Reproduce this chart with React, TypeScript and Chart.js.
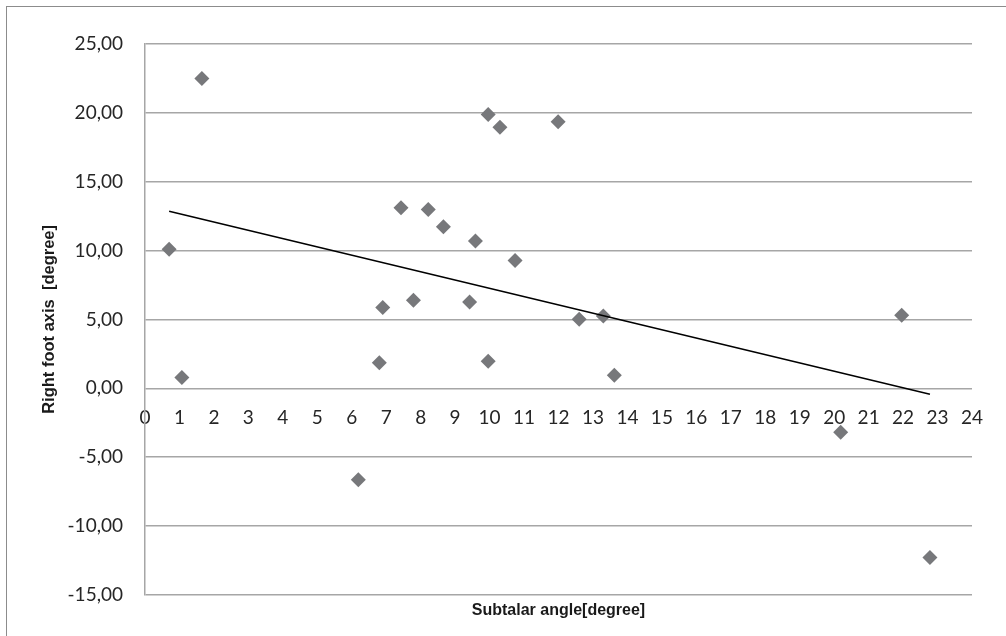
import React, { useEffect, useRef } from "react";
import { Chart, registerables } from "chart.js";

Chart.register(...registerables);

// Subtalar angle [degree]
const subtalarAngle: number[] = [
  0.7, 1.07, 1.65, 6.19, 6.8, 6.9, 7.43, 7.79, 8.22, 8.66, 9.42, 9.59,
  9.96, 9.96, 10.3, 10.74, 11.99, 12.6, 13.3, 13.62, 20.19, 21.96, 22.78,
];
// Right foot axis [degree]
const rightFootAxis: number[] = [
  10.09, 0.78, 22.5, -6.65, 1.86, 5.86, 13.11, 6.39, 12.99, 11.73, 6.26, 10.69,
  1.96, 19.88, 18.96, 9.27, 19.35, 5.01, 5.25, 0.94, -3.2, 5.3, -12.29,
];
// Linear trend line end points
const trendX: number[] = [0.7, 22.78];
const trendY: number[] = [12.85, -0.43];

const xTitle = "Subtalar angle[degree]";
const yTitle = "Right foot axis  [degree]";

const X_MIN = 0;
const X_MAX = 24;
const Y_MIN = -15;
const Y_MAX = 25;

export default function App() {
  const canvasRef = useRef<HTMLCanvasElement | null>(null);

  useEffect(() => {
    const canvas = canvasRef.current;
    if (!canvas) return;
    const gridColor = "#a6a6a6";
    const chart = new Chart(canvas, {
      type: "scatter",
      data: {
        datasets: [
          {
            type: "scatter",
            label: "points",
            data: subtalarAngle.map((x, i) => ({ x, y: rightFootAxis[i] })),
            pointStyle: "rectRot",
            pointRadius: 7.5,
            pointHoverRadius: 7.5,
            backgroundColor: "#77787b",
            borderColor: "#77787b",
            borderWidth: 0,
            order: 2,
          },
          {
            type: "line",
            label: "trend",
            data: trendX.map((x, i) => ({ x, y: trendY[i] })),
            borderColor: "#000000",
            borderWidth: 1.5,
            pointRadius: 0,
            fill: false,
            order: 1,
          } as any,
        ],
      },
      options: {
        animation: false,
        responsive: false,
        maintainAspectRatio: false,
        layout: { padding: { top: 44, right: 34, left: 0, bottom: 0 } },
        plugins: {
          legend: { display: false },
          tooltip: { enabled: false },
          title: {
            display: true,
            text: xTitle,
            position: "bottom",
            fullSize: false,
            color: "#1a1a1a",
            font: { family: "'Liberation Sans', Arial, sans-serif", weight: "bold", size: 16 },
            padding: { top: 6, bottom: 16 },
          },
        },
        scales: {
          x: {
            type: "linear",
            position: { y: 0 } as any,
            min: X_MIN,
            max: X_MAX,
            afterFit: (s: any) => {
              s.paddingLeft = 0;
              s.paddingRight = 0;
            },
            grid: { display: false, drawTicks: false },
            border: { display: false },
            ticks: {
              stepSize: 1,
              autoSkip: false,
              maxRotation: 0,
              padding: 18,
              color: "#262626",
              font: { family: "Lato, 'Open Sans', sans-serif", size: 19 },
            },
          },
          y: {
            type: "linear",
            position: "left",
            min: Y_MIN,
            max: Y_MAX,
            afterFit: (s: any) => {
              s.width = 145;
            },
            grid: { color: gridColor, lineWidth: 1.5, drawTicks: false },
            border: { display: true, color: gridColor, width: 1.5 },
            ticks: {
              stepSize: 5,
              padding: 22,
              color: "#262626",
              font: { family: "Lato, 'Open Sans', sans-serif", size: 19 },
              callback: (v: any) => Number(v).toFixed(2).replace(".", ","),
            },
            title: {
              display: true,
              text: yTitle,
              color: "#1a1a1a",
              font: { family: "'Liberation Sans', Arial, sans-serif", weight: "bold", size: 16.5 },
              padding: { top: 40, bottom: 0 },
            },
          },
        },
      },
    });
    return () => chart.destroy();
  }, []);

  return (
    <div
      style={{
        position: "absolute",
        left: 0,
        top: 0,
        width: 1006,
        height: 636,
        overflow: "hidden",
        background: "#ffffff",
      }}
    >
      <div
        style={{
          position: "absolute",
          left: 6,
          top: 6,
          width: 1100,
          height: 800,
          borderLeft: "1.5px solid #8c8c8c",
          borderTop: "1.5px solid #8c8c8c",
        }}
      />
      <canvas
        ref={canvasRef}
        width={1006}
        height={636}
        style={{ position: "absolute", left: 0, top: 0, width: 1006, height: 636 }}
      />
    </div>
  );
}
